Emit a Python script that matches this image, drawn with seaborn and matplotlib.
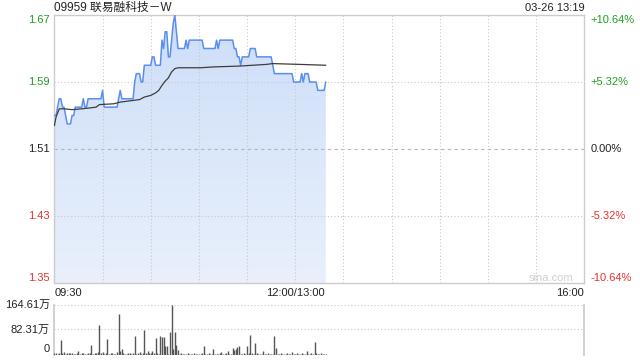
import numpy as np
import pandas as pd
import matplotlib
matplotlib.use("Agg")
import matplotlib.pyplot as plt
import seaborn as sns
from matplotlib.colors import LinearSegmentedColormap

# ---------------- data ----------------
title = "09959 联易融科技－W"
stamp = "03-26 13:19"
prev_close = 1.51
price_ticks = [1.35, 1.43, 1.51, 1.59, 1.67]
pct_labels = ["-10.64%", "-5.32%", "0.00%", "+5.32%", "+10.64%"]
time_labels = ["09:30", "12:00/13:00", "16:00"]
vol_ticks = [0, 82.31, 164.61]
vol_labels = ["0", "82.31万", "164.61万"]

# per-minute last price, 09:30 .. 13:19 (lunch removed)
price = [
    1.55, 1.55, 1.56, 1.57, 1.57, 1.56, 1.56, 1.55, 1.54, 1.54,
    1.54, 1.55, 1.55, 1.56, 1.56, 1.56, 1.56, 1.56, 1.57, 1.56,
    1.56, 1.57, 1.57, 1.57, 1.57, 1.57, 1.57, 1.57, 1.57, 1.57,
    1.58, 1.56, 1.56, 1.56, 1.56, 1.56, 1.56, 1.56, 1.56, 1.56,
    1.57, 1.58, 1.57, 1.57, 1.57, 1.57, 1.57, 1.57, 1.57, 1.57,
    1.59, 1.60, 1.60, 1.60, 1.59, 1.59, 1.61, 1.61, 1.61, 1.61,
    1.61, 1.62, 1.62, 1.61, 1.61, 1.61, 1.61, 1.64, 1.63, 1.65,
    1.65, 1.62, 1.62, 1.64, 1.66, 1.67, 1.65, 1.63, 1.63, 1.63,
    1.63, 1.63, 1.64, 1.63, 1.64, 1.64, 1.64, 1.64, 1.64, 1.64,
    1.64, 1.64, 1.64, 1.63, 1.63, 1.63, 1.63, 1.63, 1.63, 1.63,
    1.63, 1.64, 1.63, 1.64, 1.64, 1.64, 1.64, 1.64, 1.64, 1.64,
    1.64, 1.64, 1.63, 1.63, 1.62, 1.62, 1.61, 1.62, 1.62, 1.62,
    1.62, 1.62, 1.63, 1.63, 1.63, 1.63, 1.62, 1.62, 1.62, 1.62,
    1.62, 1.62, 1.62, 1.62, 1.62, 1.62, 1.61, 1.60, 1.60, 1.60,
    1.60, 1.60, 1.60, 1.60, 1.60, 1.60, 1.60, 1.60, 1.60, 1.59,
    1.59, 1.59, 1.59, 1.59, 1.60, 1.59, 1.60, 1.60, 1.60, 1.59,
    1.59, 1.59, 1.59, 1.59, 1.58, 1.58, 1.58, 1.58, 1.58, 1.59,
]

# average price line (minute, value)
avg_minute = [0, 1, 3, 6, 11, 17, 22, 26, 28, 37, 41, 49, 53, 56, 60, 63, 65,
              67, 69, 71, 73, 75, 77, 91, 99, 115, 132, 136, 153, 169]
avg_price = [1.538, 1.548, 1.558, 1.558, 1.557, 1.558, 1.559, 1.560, 1.563,
             1.564, 1.566, 1.568, 1.569, 1.572, 1.574, 1.577, 1.580, 1.586,
             1.591, 1.595, 1.602, 1.606, 1.607, 1.607, 1.608, 1.609, 1.611,
             1.612, 1.611, 1.610]

# per-minute volume (万)
volume = [
    5, 4, 3, 6, 47, 5, 8, 3, 6, 4,
    4, 6, 3, 3, 5, 13, 3, 4, 6, 3,
    3, 4, 4, 30, 3, 6, 4, 8, 97, 5,
    8, 3, 4, 50, 3, 4, 6, 3, 3, 7,
    132, 12, 17, 4, 3, 3, 5, 4, 3, 4,
    60, 3, 4, 8, 3, 4, 81, 5, 10, 6,
    5, 12, 4, 55, 5, 3, 60, 58, 58, 28,
    27, 3, 75, 164.61, 19, 73, 30, 16, 3, 4,
    2, 3, 2, 4, 3, 2, 3, 4, 2, 3,
    3, 2, 4, 27, 3, 2, 4, 3, 2, 18,
    3, 2, 3, 4, 8, 2, 3, 4, 10, 3,
    2, 20, 14, 18, 25, 28, 3, 2, 4, 3,
    27, 4, 64, 6, 3, 38, 4, 3, 2, 3,
    10, 3, 2, 4, 3, 2, 3, 60, 20, 3,
    2, 4, 3, 2, 3, 4, 2, 3, 8, 3,
    2, 4, 3, 2, 4, 3, 2, 10, 3, 2,
    4, 3, 40, 4, 3, 2, 4, 3, 2, 3,
]

# ---------------- style ----------------
sns.set_theme(style="white")
plt.rcParams["font.family"] = ["Liberation Sans", "Noto Sans CJK SC", "DejaVu Sans"]

GREEN = "#1f9e1f"
RED = "#e8312f"
BLUE = "#5a8ef0"
GRID = "#c8c8c8"
BORDER = "#cccccc"
TOTAL_MIN = 330

df = pd.DataFrame({"minute": np.arange(len(price)), "price": price, "volume": volume})
avg_df = pd.DataFrame({"minute": avg_minute, "avg": avg_price})

W, H = 640, 360
fig = plt.figure(figsize=(6.4, 3.6), dpi=100)
L, R = 54.4, 584.3
ax = fig.add_axes([L / W, 1 - 283 / H, (R - L) / W, (283 - 15) / H])
axv = fig.add_axes([L / W, 1 - 354.5 / H, (R - L) / W, (354.5 - 304.5) / H])

# ---- main price panel ----
poly = ax.fill_between(df["minute"], df["price"], price_ticks[0], color="none", lw=0)
cmap = LinearSegmentedColormap.from_list("g", ["#e9f0fc", "#cddef8"])
img = ax.imshow(np.linspace(0, 1, 256).reshape(-1, 1), cmap=cmap, aspect="auto",
                extent=[0, TOTAL_MIN, price_ticks[0], price_ticks[-1]], origin="lower",
                zorder=1)
img.set_clip_path(poly.get_paths()[0], transform=ax.transData)

for p in price_ticks[1:-1]:
    if p == prev_close:
        ax.axhline(p, color="#b5b5b5", lw=0.8, ls=(0, (3, 3)), zorder=2)
    else:
        ax.axhline(p, color=GRID, lw=0.8, ls=(0, (1, 2)), zorder=2)
for t in range(30, TOTAL_MIN, 30):
    ax.axvline(t, color=GRID, lw=0.8, ls=(0, (1, 2)), zorder=2)

sns.lineplot(data=df, x="minute", y="price", ax=ax, color=BLUE, lw=1.1, zorder=3)
sns.lineplot(data=avg_df, x="minute", y="avg", ax=ax, color="#3d3d3d", lw=0.9, zorder=4)

ax.set_xlim(0, TOTAL_MIN)
ax.set_ylim(price_ticks[0], price_ticks[-1])
ax.set_xticks([]); ax.set_yticks([])
ax.set_xlabel(""); ax.set_ylabel("")
for s in ax.spines.values():
    s.set_color(BORDER); s.set_linewidth(1)

fs = 8
colors = [RED, RED, "#222222", GREEN, GREEN]
for i, (p, lab, c) in enumerate(zip(price_ticks, pct_labels, colors)):
    va = "bottom" if i == 0 else ("top" if i == len(price_ticks) - 1 else "center")
    ax.annotate(f"{p:.2f}", xy=(0, p), xycoords=("axes fraction", "data"),
                xytext=(-4.5, 0), textcoords="offset pixels", ha="right", va=va,
                color=c, fontsize=fs)
    ax.annotate(lab, xy=(1, p), xycoords=("axes fraction", "data"),
                xytext=(6, 0), textcoords="offset pixels", ha="left", va=va,
                color=c, fontsize=fs)

for t, lab, ha in zip([0, 150, TOTAL_MIN], time_labels, ["left", "center", "right"]):
    ax.annotate(lab, xy=(t, 0), xycoords=("data", "axes fraction"),
                xytext=(0, -5), textcoords="offset pixels", ha=ha, va="top",
                color="#222222", fontsize=fs)

fig.text(L / W, 1 - 8 / H, title, ha="left", va="center", fontsize=8.5, color="#222222")
fig.text(R / W, 1 - 8 / H, stamp, ha="right", va="center", fontsize=8, color="#222222")
fig.text(573 / W, 1 - 283 / H, "sina.com", ha="right", va="bottom", fontsize=8, color="#d0d0d0")

# ---- volume panel ----
for v in vol_ticks:
    axv.axhline(v, color=GRID, lw=0.8, ls=(0, (1, 2)), zorder=1)
axv.vlines(df["minute"], 0, df["volume"], color="#555555", lw=1.0, zorder=3)
axv.set_xlim(0, TOTAL_MIN)
axv.set_ylim(0, vol_ticks[-1])
axv.set_xticks([]); axv.set_yticks([])
axv.set_xlabel(""); axv.set_ylabel("")
axv.set_facecolor("none")
axv.spines["top"].set_visible(False)
axv.spines["bottom"].set_visible(False)
axv.spines["left"].set_color(BORDER)
axv.spines["right"].set_color(BORDER)
for i, (v, lab) in enumerate(zip(vol_ticks, vol_labels)):
    va = "bottom" if i == 0 else "center"
    axv.annotate(lab, xy=(0, v), xycoords=("axes fraction", "data"),
                 xytext=(-4.5, 0), textcoords="offset pixels", ha="right", va=va,
                 color="#222222", fontsize=fs)

fig.savefig("out.png", dpi=100)
